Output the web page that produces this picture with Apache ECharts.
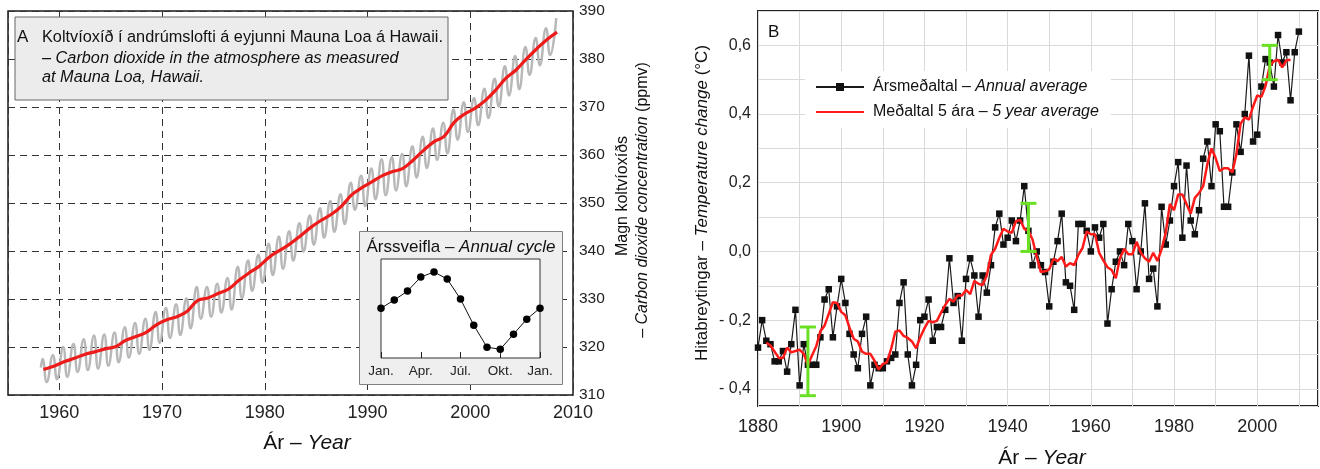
<!DOCTYPE html>
<html>
<head>
	<meta charset="utf-8" />
	<title>Koltvíoxíð og hitabreytingar</title>
	<script src="https://cdn.jsdelivr.net/npm/echarts@6/dist/echarts.min.js"></script>
	<style type="text/css">
		html, body { margin: 0; padding: 0; background: #fff; }
		#chart { width: 1320px; height: 469px; }
	</style>
</head>
<body>
	<div id="chart"></div>
<script>
	// ---- A: CO2 at Mauna Loa (ppmv) ----
	var co2Years = [1958, 1959, 1960, 1961, 1962, 1963, 1964, 1965, 1966, 1967,
		1968, 1969, 1970, 1971, 1972, 1973, 1974, 1975, 1976, 1977,
		1978, 1979, 1980, 1981, 1982, 1983, 1984, 1985, 1986, 1987,
		1988, 1989, 1990, 1991, 1992, 1993, 1994, 1995, 1996, 1997,
		1998, 1999, 2000, 2001, 2002, 2003, 2004, 2005, 2006, 2007, 2008];
	// red trend line (annual level)
	var co2Trend = [315.3, 315.98, 316.91, 317.64, 318.45, 318.99, 319.62, 320.04, 321.37, 322.18,
		323.05, 324.62, 325.68, 326.32, 327.46, 329.68, 330.19, 331.13, 332.03, 333.84,
		335.41, 336.84, 338.76, 340.12, 341.48, 343.15, 344.87, 346.35, 347.61, 349.31,
		351.69, 353.20, 354.45, 355.70, 356.54, 357.21, 358.96, 360.97, 362.74, 363.88,
		366.84, 368.54, 369.71, 371.32, 373.45, 375.98, 377.70, 379.98, 382.09, 384.02, 385.6];
	// grey seasonal curve: spring highs and autumn lows of each year
	var co2High = [317.5, 318.3, 320.0, 320.6, 321.6, 322.4, 322.6, 323.0, 324.1, 325.0,
		325.9, 327.3, 328.1, 328.9, 330.1, 332.5, 332.5, 333.2, 334.4, 336.7,
		338.0, 339.2, 341.5, 343.0, 344.1, 345.8, 347.4, 348.9, 350.4, 351.8,
		354.2, 355.7, 357.2, 359.1, 359.6, 360.2, 361.8, 363.8, 365.5, 366.7,
		369.5, 371.0, 371.8, 373.8, 375.9, 378.5, 380.6, 382.5, 384.4, 386.4, 388.5];
	var co2Low = [312.7, 313.3, 313.8, 314.8, 315.2, 315.5, 316.1, 316.8, 317.8, 318.6,
		319.4, 320.9, 321.9, 322.5, 323.9, 325.9, 326.3, 327.2, 327.8, 330.2,
		331.7, 333.4, 335.0, 336.3, 338.0, 339.9, 341.3, 342.8, 344.0, 345.6,
		348.6, 349.4, 350.8, 351.6, 352.6, 353.5, 355.3, 357.3, 359.0, 360.3,
		363.2, 364.8, 366.2, 367.7, 370.1, 372.4, 373.7, 376.7, 378.7, 380.8];
	var co2First = [1958.2, 315.7];

	// inset: annual cycle
	var cycleMonth = [0, 1, 2, 3, 4, 5, 6, 7, 8, 9, 10, 11, 12];
	var cycleValue = [0.03, 0.68, 1.41, 2.54, 2.95, 2.38, 0.76, -1.35, -3.13, -3.29, -2.08, -0.86, 0.03];
	var monthNames = {0: 'Jan.', 3: 'Apr.', 6: 'Júl.', 9: 'Okt.', 12: 'Jan.'};

	// ---- B: temperature change (°C) ----
	var tempFirstYear = 1880;
	var tempAnnual = [
		-0.28, -0.20, -0.26, -0.27, -0.32, -0.32, -0.29, -0.35, -0.27, -0.17,
		-0.39, -0.27, -0.33, -0.33, -0.33, -0.25, -0.14, -0.11, -0.25, -0.16,
		-0.08, -0.15, -0.24, -0.30, -0.34, -0.24, -0.19, -0.39, -0.33, -0.34,
		-0.34, -0.32, -0.31, -0.30, -0.15, -0.09, -0.30, -0.39, -0.33, -0.20,
		-0.19, -0.14, -0.26, -0.22, -0.22, -0.17, -0.02, -0.15, -0.13, -0.26,
		-0.08, -0.02, -0.07, -0.19, -0.07, -0.12, -0.04, 0.07, 0.11, 0.02,
		0.04, 0.09, 0.03, 0.09, 0.19, 0.06, -0.04, 0.00, -0.04, -0.06,
		-0.16, -0.03, 0.03, 0.11, -0.09, -0.10, -0.17, 0.08, 0.08, 0.06,
		0.00, 0.07, 0.04, 0.08, -0.21, -0.11, -0.03, 0.00, -0.04, 0.08,
		0.03, -0.11, 0.00, 0.14, -0.08, -0.05, -0.16, 0.13, 0.02, 0.09,
		0.19, 0.26, 0.04, 0.25, 0.09, 0.05, 0.12, 0.27, 0.32, 0.19,
		0.37, 0.35, 0.13, 0.13, 0.23, 0.37, 0.29, 0.40, 0.57, 0.32,
		0.34, 0.48, 0.56, 0.55, 0.48, 0.63, 0.55, 0.58, 0.44, 0.58,
		0.64];
	var avgFirstYear = 1882;
	var tempAvg5 = [
		-0.266, -0.274, -0.292, -0.310, -0.310, -0.280, -0.294, -0.290,
		-0.286, -0.298, -0.330, -0.302, -0.276, -0.232, -0.216, -0.182, -0.148, -0.150,
		-0.176, -0.186, -0.222, -0.254, -0.262, -0.292, -0.298, -0.298, -0.318, -0.344,
		-0.328, -0.322, -0.284, -0.234, -0.230, -0.246, -0.252, -0.262, -0.282, -0.250,
		-0.224, -0.202, -0.206, -0.202, -0.178, -0.156, -0.138, -0.146, -0.128, -0.128,
		-0.112, -0.124, -0.086, -0.094, -0.098, -0.070, -0.010, 0.008, 0.040, 0.066,
		0.058, 0.054, 0.088, 0.092, 0.066, 0.060, 0.034, -0.016, -0.060, -0.058,
		-0.052, -0.022, -0.028, -0.016, -0.044, -0.034, -0.040, -0.010, 0.010, 0.058,
		0.050, 0.050, -0.004, -0.026, -0.046, -0.054, -0.078, -0.020, 0.008, -0.008,
		-0.008, 0.028, -0.004, -0.020, -0.030, -0.004, -0.028, 0.006, 0.054, 0.138,
		0.120, 0.166, 0.166, 0.138, 0.110, 0.156, 0.170, 0.190, 0.254, 0.300,
		0.272, 0.234, 0.242, 0.242, 0.230, 0.284, 0.372, 0.390, 0.384, 0.422,
		0.454, 0.450, 0.482, 0.540, 0.554, 0.558, 0.536, 0.556, 0.558];
	var errYear = [1892, 1945, 2003];
	var errLow = [-0.42, 0.00, 0.50];
	var errHigh = [-0.22, 0.14, 0.60];

	var FONT = "'Liberation Sans', Arial, sans-serif";

	var greyData = [co2First];
	var redData = [];
	for (var i = 0; i < co2Years.length; i++) {
		greyData.push([co2Years[i] + 0.37, co2High[i]]);
		if (i < co2Low.length) greyData.push([co2Years[i] + 0.77, co2Low[i]]);
		redData.push([co2Years[i] + 0.45, co2Trend[i]]);
	}
	var cycleData = [];
	for (var m = 0; m < cycleMonth.length; m++) cycleData.push([cycleMonth[m], cycleValue[m]]);
	var annualData = [];
	for (var a = 0; a < tempAnnual.length; a++) annualData.push([tempFirstYear + a, tempAnnual[a]]);
	var avgData = [];
	for (var b = 0; b < tempAvg5.length; b++) avgData.push([avgFirstYear + b, tempAvg5[b]]);
	var errData = [];
	for (var e = 0; e < errYear.length; e++) errData.push([errYear[e], errLow[e], errHigh[e]]);

	function richOf(size) {
		return {
			n: {fontFamily: FONT, fontSize: size, color: '#111'},
			i: {fontFamily: FONT, fontSize: size, color: '#111', fontStyle: 'italic'}
		};
	}
	function txt(x, y, text, size, opt) {
		opt = opt || {};
		return {
			type: 'text', x: x, y: y, z: opt.z || 60,
			rotation: opt.rot || 0,
			style: {
				text: text, rich: richOf(size), fill: '#111',
				fontFamily: FONT, fontSize: size,
				align: opt.align || 'left', verticalAlign: 'middle',
				textAlign: opt.align || 'left', textVerticalAlign: 'middle'
			}
		};
	}
	function fmtTemp(v) {
		var k = Math.round(v * 10);
		if (Math.abs(v * 10 - k) > 1e-6 || k % 2 !== 0) return '';
		if (k === 0) return '0,0';
		var s = Math.abs(v).toFixed(1).replace('.', ',');
		return k < 0 ? '- ' + s : s;
	}

	var myChart = echarts.init(document.getElementById('chart'));
	var dashed = {type: [7, 5], color: '#333', width: 1};

	var options = {
		backgroundColor: '#fff',
		animation: false,
		textStyle: {fontFamily: FONT},
		grid: [
			{left: 8, top: 11, width: 565, height: 384, show: true, backgroundColor: '#fff', borderColor: '#1a1a1a', borderWidth: 1.5},
			{left: 381, top: 259, width: 159, height: 99, show: true, backgroundColor: '#fff', borderColor: '#333', borderWidth: 1, z: 6},
			{left: 758, top: 11, width: 560, height: 395, show: true, backgroundColor: '#fff', borderColor: '#222', borderWidth: 2}
		],
		xAxis: [
			{
				gridIndex: 0, type: 'value', min: 1955, max: 2010, splitNumber: 5,
				axisLine: {show: false}, axisTick: {show: false},
				axisLabel: {showMinLabel: false, fontSize: 18, color: '#222', margin: 9,
					formatter: function (v) { return v % 10 === 0 ? String(v) : ''; }},
				splitLine: {show: true, lineStyle: dashed}
			},
			{
				gridIndex: 1, type: 'value', min: 0, max: 12, interval: 3, z: 8,
				axisLine: {show: false, onZero: false},
				axisTick: {show: true, inside: true, length: 6, lineStyle: {color: '#222', width: 1}},
				axisLabel: {fontSize: 13.5, color: '#222', margin: 6,
					formatter: function (v) { return monthNames[v] || ''; }},
				splitLine: {show: false}
			},
			{
				gridIndex: 2, type: 'value', min: 1880, max: 2014.6, interval: 10,
				axisLine: {show: false}, axisTick: {show: false},
				axisLabel: {showMaxLabel: false, fontSize: 18, color: '#222', margin: 12,
					formatter: function (v) { return v % 20 === 0 ? String(v) : ''; }},
				splitLine: {show: true, lineStyle: {color: '#dadada', width: 1}}
			}
		],
		yAxis: [
			{
				gridIndex: 0, type: 'value', position: 'right', min: 310, max: 390, interval: 10,
				axisLine: {show: false}, axisTick: {show: false},
				axisLabel: {fontSize: 15.5, color: '#222', margin: 6},
				splitLine: {show: true, lineStyle: dashed}
			},
			{
				gridIndex: 1, type: 'value', min: -4, max: 4, show: false,
				axisLine: {onZero: false},
				splitLine: {show: false}
			},
			{
				gridIndex: 2, type: 'value', min: -0.45, max: 0.70, splitNumber: 11,
				axisLine: {show: false}, axisTick: {show: false},
				axisLabel: {showMinLabel: false, showMaxLabel: false, fontSize: 16, color: '#222', margin: 7,
					formatter: fmtTemp},
				splitLine: {show: true, lineStyle: {color: '#dadada', width: 1}}
			}
		],
		legend: {
			data: [
				{name: 'annual'},
				{name: 'avg5', itemStyle: {opacity: 0}}
			],
			orient: 'vertical',
			left: 805, top: 71,
			itemWidth: 48, itemHeight: 10, itemGap: 9,
			padding: [8, 12, 8, 10],
			backgroundColor: '#fff',
			selectedMode: false,
			textStyle: {fontFamily: FONT, fontSize: 16, color: '#111', padding: [0, 0, 0, 4], rich: richOf(16)},
			formatter: function (name) {
				return name === 'annual' ? '{n|Ársmeðaltal – }{i|Annual average}'
					: '{n|Meðaltal 5 ára – }{i|5 year average}';
			}
		},
		graphic: [
			// title box A
			{type: 'rect', z: 50, shape: {x: 15, y: 17, width: 433, height: 83},
				style: {fill: '#ececec', stroke: '#666', lineWidth: 1}},
			txt(17, 37, '{n|A}', 17),
			txt(42, 38, '{n|Koltvíoxíð í andrúmslofti á eyjunni Mauna Loa á Hawaii.}', 16.3),
			txt(42, 58, '{i|– Carbon dioxide in the atmosphere as measured}', 16.3),
			txt(42, 77, '{i|at Mauna Loa, Hawaii.}', 16.3),
			// inset frame
			{type: 'rect', z: 5, shape: {x: 359.5, y: 231.5, width: 203, height: 153},
				style: {fill: '#efefef', stroke: '#808080', lineWidth: 1}},
			txt(461, 247, '{n|Árssveifla – }{i|Annual cycle}', 17, {align: 'center', z: 6}),
			// axis titles A
			txt(307, 443, '{n|Ár – }{i|Year}', 21, {align: 'center'}),
			txt(623, 196, '{n|Magn koltvíoxíðs}', 16, {align: 'center', rot: Math.PI / 2}),
			txt(643, 200, '{n|– }{i|Carbon dioxide concentration}{n| (ppmv)}', 16, {align: 'center', rot: Math.PI / 2}),
			// panel B
			txt(768, 32, '{n|B}', 17),
			txt(1042, 458, '{n|Ár – }{i|Year}', 21, {align: 'center'}),
			txt(702, 203, '{n|Hitabreytingar – }{i|Temperature change}{n| (°C)}', 17, {align: 'center', rot: Math.PI / 2})
		],
		series: [
			{
				name: 'co2month', type: 'line', xAxisIndex: 0, yAxisIndex: 0,
				data: greyData, smooth: 0.5, showSymbol: false, symbol: 'none', z: 2,
				lineStyle: {color: '#b8b8b8', width: 2.5}
			},
			{
				name: 'co2trend', type: 'line', xAxisIndex: 0, yAxisIndex: 0,
				data: redData, smooth: 0.4, showSymbol: false, symbol: 'none', z: 3,
				lineStyle: {color: '#ee1b1b', width: 3.2}
			},
			{
				name: 'cycle', type: 'line', xAxisIndex: 1, yAxisIndex: 1,
				data: cycleData, symbol: 'circle', symbolSize: 7.5, z: 10,
				itemStyle: {color: '#000'}, lineStyle: {color: '#111', width: 1}
			},
			{
				name: 'annual', type: 'line', xAxisIndex: 2, yAxisIndex: 2,
				data: annualData, symbol: 'rect', symbolSize: 6.5, z: 3,
				itemStyle: {color: '#111'}, lineStyle: {color: '#1a1a1a', width: 1.2}
			},
			{
				name: 'avg5', type: 'line', xAxisIndex: 2, yAxisIndex: 2,
				data: avgData, symbol: 'none', showSymbol: false, z: 4,
				itemStyle: {color: '#ff1a1a'}, lineStyle: {color: '#ff1a1a', width: 2.5}
			},
			{
				name: 'err', type: 'custom', xAxisIndex: 2, yAxisIndex: 2, z: 5,
				data: errData,
				encode: {x: 0, y: [1, 2]},
				renderItem: function (params, api) {
					var lo = api.coord([api.value(0), api.value(1)]);
					var hi = api.coord([api.value(0), api.value(2)]);
					var hw = 8;
					var st = {stroke: '#6ae024', lineWidth: 3};
					return {
						type: 'group',
						children: [
							{type: 'line', shape: {x1: lo[0], y1: lo[1], x2: hi[0], y2: hi[1]}, style: st},
							{type: 'line', shape: {x1: lo[0] - hw, y1: lo[1], x2: lo[0] + hw, y2: lo[1]}, style: st},
							{type: 'line', shape: {x1: hi[0] - hw, y1: hi[1], x2: hi[0] + hw, y2: hi[1]}, style: st}
						]
					};
				}
			}
		]
	};

	myChart.setOption(options);
</script>
</body>
</html>
